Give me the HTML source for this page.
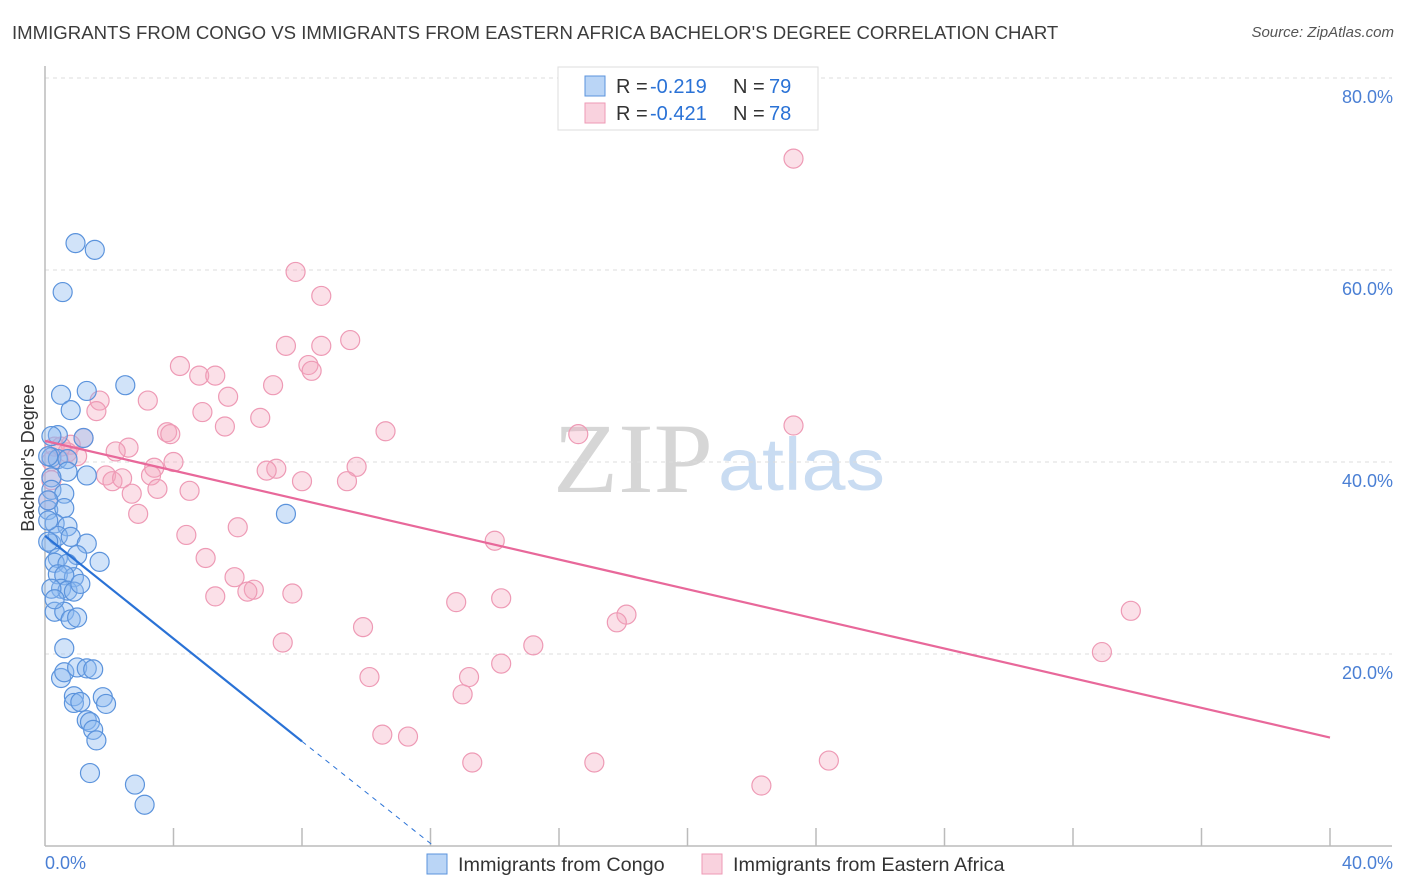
<!DOCTYPE html>
<html><head><meta charset="utf-8">
<style>
body{margin:0;background:#fff;font-family:"Liberation Sans",sans-serif;}
#wrap{position:relative;width:1406px;height:892px;overflow:hidden;}
.title{position:absolute;left:12px;top:22px;font-size:18.6px;color:#3c3c3c;white-space:nowrap;}
.source{position:absolute;right:12px;top:24px;font-size:15px;color:#555;font-style:italic;}
</style></head>
<body>
<div id="wrap">
<div class="title">IMMIGRANTS FROM CONGO VS IMMIGRANTS FROM EASTERN AFRICA BACHELOR'S DEGREE CORRELATION CHART</div>
<div class="source">Source: ZipAtlas.com</div>
<svg id="svg" width="1406" height="892" style="position:absolute;left:0;top:0"></svg>
</div>
<script>
const yTicks=[20,40,60,80];
const xTickLabels=["0.0%","40.0%"];
const congoX=[0.95,1.55,0.55,2.5,1.3,0.5,0.8,0.4,1.2,0.2,0.4,0.7,0.7,1.3,0.2,0.2,0.6,0.1,0.6,0.3,0.7,0.2,0.4,0.8,1.3,0.4,1.0,0.3,0.7,0.4,0.9,0.6,0.5,0.7,0.9,0.3,0.6,0.8,1.0,0.6,0.5,0.6,1.0,1.3,1.5,0.9,1.8,0.9,1.1,1.9,1.3,1.4,1.5,1.6,1.4,2.8,3.1,7.5,0.1,0.1,0.1,0.2,0.3,0.1,0.2,1.1,1.7];
const congoY=[62.8,62.1,57.7,48.0,47.4,47.0,45.4,42.8,42.5,40.5,40.3,40.3,39.0,38.6,38.4,37.1,36.7,35.0,35.2,33.6,33.3,31.5,32.3,32.2,31.5,30.0,30.3,29.5,29.4,28.3,28.0,28.2,26.8,26.6,26.5,24.4,24.4,23.6,23.8,20.6,17.5,18.1,18.6,18.5,18.4,15.6,15.5,14.9,15.0,14.8,13.1,12.9,12.1,11.0,7.6,6.4,4.3,34.6,31.7,36.0,33.9,26.8,25.7,40.6,42.7,27.3,29.6];
const eafX=[23.3,7.8,8.6,9.5,7.5,8.6,8.2,8.3,4.2,4.8,5.3,7.1,5.7,1.7,3.2,1.6,4.9,6.7,5.6,23.3,10.6,16.6,3.8,3.9,1.2,0.8,0.3,2.6,2.2,0.7,1.0,4.0,3.4,9.7,7.2,6.9,1.9,3.3,2.1,8.0,9.4,2.4,3.5,4.5,2.7,2.9,6.0,4.4,14.0,5.0,5.9,6.5,6.3,5.3,7.7,14.2,12.8,18.1,17.8,9.9,7.4,15.2,33.8,32.9,14.2,10.1,13.2,13.0,10.5,11.3,13.3,17.1,24.4,22.3,0.1,0.2,0.2,0.5];
const eafY=[71.6,59.8,57.3,52.7,52.1,52.1,50.1,49.5,50.0,49.0,49.0,48.0,46.8,46.4,46.4,45.3,45.2,44.6,43.7,43.8,43.2,42.9,43.1,42.9,42.5,41.8,41.6,41.5,41.1,41.0,40.6,40.0,39.4,39.5,39.3,39.1,38.6,38.6,38.0,38.0,38.0,38.3,37.2,37.0,36.7,34.6,33.2,32.4,31.8,30.0,28.0,26.7,26.5,26.0,26.3,25.8,25.4,24.1,23.3,22.8,21.2,20.9,24.5,20.2,19.0,17.6,17.6,15.8,11.6,11.4,8.7,8.7,8.9,6.3,36.0,40.1,38.1,41.6];
const L=45,R=1330,B=846,T=78;
const xs=v=>L+v/40*(R-L);
const ys=v=>B-v/80*(B-T);
const svg=document.getElementById('svg');
const NS='http://www.w3.org/2000/svg';
function mk(tag,attrs,parent){const e=document.createElementNS(NS,tag);for(const k in attrs)e.setAttribute(k,attrs[k]);(parent||svg).appendChild(e);return e;}
let w1=mk('text',{x:553,y:492,'font-size':100,fill:'#d6d6d6','font-family':'Liberation Serif, serif',textLength:160,lengthAdjust:'spacingAndGlyphs'});w1.textContent='ZIP';


let w2=mk('text',{x:718,y:490,'font-size':74,fill:'#c9dcf2','font-family':'Liberation Sans, sans-serif',textLength:167,lengthAdjust:'spacingAndGlyphs'});w2.textContent='atlas';


yTicks.forEach(t=>{
 const g=mk('line',{x1:L,x2:1392,y1:ys(t),y2:ys(t),stroke:'#dcdcdc','stroke-dasharray':'4,4'});
 
 
 const tx=mk('text',{x:1393,y:ys(t)+25,'text-anchor':'end','font-size':18,fill:'#4a7fd4'});tx.textContent=t.toFixed(1)+'%';
 
 
});
let ax=mk('line',{x1:L,x2:L,y1:66,y2:B,stroke:'#bbb','stroke-width':1.5});


let bx=mk('line',{x1:L,x2:1392,y1:B,y2:B,stroke:'#bbb','stroke-width':1.5});


for(let i=1;i<=10;i++){const t=mk('line',{x1:xs(i*4),x2:xs(i*4),y1:B,y2:B-18,stroke:'#bbb','stroke-width':1.5});
 
 }
let xl0=mk('text',{x:45,y:869,'font-size':18,fill:'#4a7fd4'});xl0.textContent=xTickLabels[0];


let xl1=mk('text',{x:1393,y:869,'font-size':18,fill:'#4a7fd4','text-anchor':'end'});xl1.textContent=xTickLabels[1];


let yt=mk('text',{x:34,y:458,'font-size':18,fill:'#333','text-anchor':'middle',transform:'rotate(-90 34 458)'});yt.textContent="Bachelor's Degree";


eafX.forEach((x,i)=>{const c=mk('circle',{cx:xs(x),cy:ys(eafY[i]),r:9.5,fill:'rgba(244,166,190,0.35)',stroke:'#ee9ab5','stroke-width':1.2});
 
 });
congoX.forEach((x,i)=>{const c=mk('circle',{cx:xs(x),cy:ys(congoY[i]),r:9.5,fill:'rgba(140,185,240,0.4)',stroke:'#5b93dc','stroke-width':1.2});
 
 });
let tp=mk('line',{x1:xs(0),y1:ys(42.2),x2:xs(40),y2:ys(11.3),stroke:'#e8689a','stroke-width':2.2});


let tb=mk('line',{x1:xs(0),y1:ys(32.3),x2:xs(8),y2:ys(10.9),stroke:'#2a72d6','stroke-width':2.2});


let td=mk('line',{x1:xs(8),y1:ys(10.9),x2:xs(12.1),y2:ys(0),stroke:'#2a72d6','stroke-width':1,'stroke-dasharray':'5,5'});


let lg=mk('rect',{x:558,y:67,width:260,height:63,fill:'#fff',stroke:'#ddd'});


[[86,'rgba(140,185,240,0.6)','#5b93dc','-0.219','79'],[113,'rgba(244,166,190,0.5)','#ee9ab5','-0.421','78']].forEach((r,i)=>{
 const s=mk('rect',{x:585,y:r[0]-10,width:20,height:20,fill:r[1],stroke:r[2]});
 
 
 const t=mk('text',{x:616,y:r[0]+7,'font-size':20,fill:'#333'});
 t.innerHTML='<tspan>R = </tspan><tspan x="650" fill="#2a72d6">'+r[3]+'</tspan><tspan x="733">N = </tspan><tspan x="769" fill="#2a72d6">'+r[4]+'</tspan>';
 
 
});
[[427,'rgba(140,185,240,0.6)','#5b93dc','Immigrants from Congo'],[702,'rgba(244,166,190,0.5)','#ee9ab5','Immigrants from Eastern Africa']].forEach(r=>{
 const s=mk('rect',{x:r[0],y:854,width:20,height:20,fill:r[1],stroke:r[2]});
 
 
 const t=mk('text',{x:r[0]+31,y:871,'font-size':19.8,fill:'#333'});t.textContent=r[3];
 
 
});
</script>
</body></html>
